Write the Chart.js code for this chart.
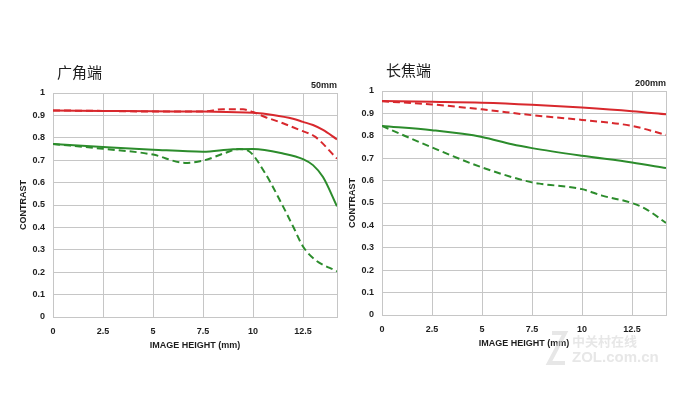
<!DOCTYPE html>
<html><head><meta charset="utf-8">
<script src="https://cdn.jsdelivr.net/npm/chart.js@4"></script>
<style>
html,body{margin:0;padding:0;background:#fff;width:698px;height:397px;overflow:hidden;position:relative}
canvas{position:absolute}
</style></head><body>
<canvas id="c1" width="349" height="397" style="left:0;top:0;width:349px;height:397px"></canvas>
<canvas id="c2" width="349" height="397" style="left:329px;top:-2px;width:349px;height:397px"></canvas>
<script>
// ---- tick labels ----
const xTicks = [0, 2.5, 5, 7.5, 10, 12.5, 14.2];
const xTickLabels = ['0', '2.5', '5', '7.5', '10', '12.5', ''];
const yTicks = [0, 0.1, 0.2, 0.3, 0.4, 0.5, 0.6, 0.7, 0.8, 0.9, 1];
const yTickLabels = ['0', '0.1', '0.2', '0.3', '0.4', '0.5', '0.6', '0.7', '0.8', '0.9', '1'];

// ---- wide end (50mm) ----
const wideRedSolidX = [0, 2.5, 5, 7.5, 10, 11, 12, 12.5, 13, 13.5, 14.2];
const wideRedSolidY = [0.922, 0.92, 0.918, 0.917, 0.912, 0.902, 0.885, 0.871, 0.857, 0.835, 0.793];
const wideRedDashX = [0, 2.5, 5, 7.5, 8.5, 9.5, 10, 10.6, 11.5, 12.3, 13.1, 14.2];
const wideRedDashY = [0.922, 0.92, 0.917, 0.917, 0.928, 0.927, 0.915, 0.893, 0.865, 0.836, 0.805, 0.707];
const wideGreenSolidX = [0, 2.5, 5, 7.5, 9, 10, 11.5, 12.5, 13, 13.5, 14.2];
const wideGreenSolidY = [0.772, 0.759, 0.747, 0.738, 0.749, 0.75, 0.73, 0.705, 0.678, 0.625, 0.494];
const wideGreenDashX = [0, 2.5, 5, 6.6, 7.5, 8.6, 9.3, 9.8, 10.6, 11.5, 12, 12.5, 13.1, 14.2];
const wideGreenDashY = [0.772, 0.751, 0.725, 0.688, 0.698, 0.732, 0.75, 0.74, 0.643, 0.494, 0.405, 0.315, 0.256, 0.204];

// ---- tele end (200mm) ----
const teleRedSolidX = [0, 2.5, 5, 7.5, 10, 12.5, 14.2];
const teleRedSolidY = [0.955, 0.952, 0.948, 0.939, 0.926, 0.91, 0.896];
const teleRedDashX = [0, 2.5, 5, 7.5, 10, 12.5, 14.2];
const teleRedDashY = [0.954, 0.94, 0.918, 0.892, 0.871, 0.844, 0.804];
const teleGreenSolidX = [0, 2.5, 5, 6.5, 7.5, 10, 12.5, 14.2];
const teleGreenSolidY = [0.844, 0.825, 0.795, 0.762, 0.745, 0.711, 0.681, 0.656];
const teleGreenDashX = [0, 2.5, 5, 7.5, 8, 10, 11, 12.5, 13.2, 14.2];
const teleGreenDashY = [0.844, 0.748, 0.659, 0.592, 0.585, 0.562, 0.533, 0.5, 0.473, 0.411];

const RED = '#d8282d', GREEN = '#2c8c2c', GRID = '#c6c6c6', TXT = '#1e1e1e';
const FONT = "'Liberation Sans', Arial, sans-serif";
Chart.defaults.font.family = FONT;

function pts(xs, ys) { return xs.map((x, i) => ({x: x, y: ys[i]})); }
function ds(xs, ys, color, dashed) {
  return {data: pts(xs, ys), borderColor: color, borderWidth: 2, borderDash: dashed ? [7, 4] : [],
    pointRadius: 0, fill: false, cubicInterpolationMode: 'monotone'};
}

function makeChart(id, title, focal, sets, watermark) {
  const textPlugin = {
    id: 'texts',
    afterDraw(chart) {
      const ctx = chart.ctx, a = chart.chartArea;
      ctx.save();
      ctx.fillStyle = TXT;
      ctx.textBaseline = 'middle';
      ctx.textAlign = 'left';
      ctx.font = "15px 'Noto Sans CJK SC'";
      ctx.fillText(title, a.left + 4, a.top - 21);
      ctx.font = 'bold 9px ' + FONT;
      ctx.textAlign = 'right';
      ctx.fillText(focal, a.right, a.top - 7);
      ctx.textAlign = 'center';
      ctx.fillText('IMAGE HEIGHT (mm)', (a.left + a.right) / 2, a.bottom + 29);
      ctx.save();
      ctx.translate(a.left - 29, (a.top + a.bottom) / 2);
      ctx.rotate(-Math.PI / 2);
      ctx.fillText('CONTRAST', 0, 0);
      ctx.restore();
      if (watermark) {
        ctx.fillStyle = 'rgba(215,215,215,0.6)';
        ctx.font = "bold 13px 'Noto Sans CJK SC'";
        ctx.textAlign = 'left';
        ctx.fillText('中关村在线', a.left + 190, a.bottom + 26);
        ctx.font = 'bold 15px ' + FONT;
        ctx.fillText('ZOL.com.cn', a.left + 190, a.bottom + 43);
        ctx.strokeStyle = 'rgba(215,215,215,0.6)';
        ctx.lineWidth = 4;
        ctx.beginPath();
        ctx.moveTo(a.left + 170, a.bottom + 18);
        ctx.lineTo(a.left + 183, a.bottom + 18);
        ctx.lineTo(a.left + 167, a.bottom + 48);
        ctx.lineTo(a.left + 183, a.bottom + 48);
        ctx.stroke();
      }
      ctx.restore();
    }
  };
  return new Chart(document.getElementById(id), {
    type: 'line',
    data: {datasets: sets},
    options: {
      responsive: false, animation: false,
      layout: {padding: {left: 0, top: 93, right: 12, bottom: 0}},
      plugins: {legend: {display: false}, tooltip: {enabled: false}, title: {display: false}},
      scales: {
        x: {
          type: 'linear', min: 0, max: 14.2,
          afterBuildTicks(s) { s.ticks = xTicks.map(v => ({value: v})); },
          afterFit(s) { s.height = 80; },
          ticks: {padding: 9, color: TXT, font: {size: 9, weight: 'bold'}, maxRotation: 0, autoSkip: false,
            callback(v, i) { return xTickLabels[i]; }},
          grid: {color: GRID, lineWidth: 1, drawTicks: false},
          border: {color: GRID, width: 1}
        },
        y: {
          type: 'linear', min: 0, max: 1,
          afterBuildTicks(s) { s.ticks = yTicks.map(v => ({value: v})); },
          afterFit(s) { s.width = 53; },
          ticks: {padding: 8, color: TXT, font: {size: 9, weight: 'bold'}, autoSkip: false,
            callback(v, i) { return yTickLabels[i]; }},
          grid: {color: GRID, lineWidth: 1, drawTicks: false},
          border: {color: GRID, width: 1}
        }
      }
    },
    plugins: [textPlugin]
  });
}

makeChart('c1', '广角端', '50mm', [
  ds(wideRedSolidX, wideRedSolidY, RED, false),
  ds(wideRedDashX, wideRedDashY, RED, true),
  ds(wideGreenSolidX, wideGreenSolidY, GREEN, false),
  ds(wideGreenDashX, wideGreenDashY, GREEN, true)
], false);

makeChart('c2', '长焦端', '200mm', [
  ds(teleRedSolidX, teleRedSolidY, RED, false),
  ds(teleRedDashX, teleRedDashY, RED, true),
  ds(teleGreenSolidX, teleGreenSolidY, GREEN, false),
  ds(teleGreenDashX, teleGreenDashY, GREEN, true)
], true);
</script>
</body></html>
